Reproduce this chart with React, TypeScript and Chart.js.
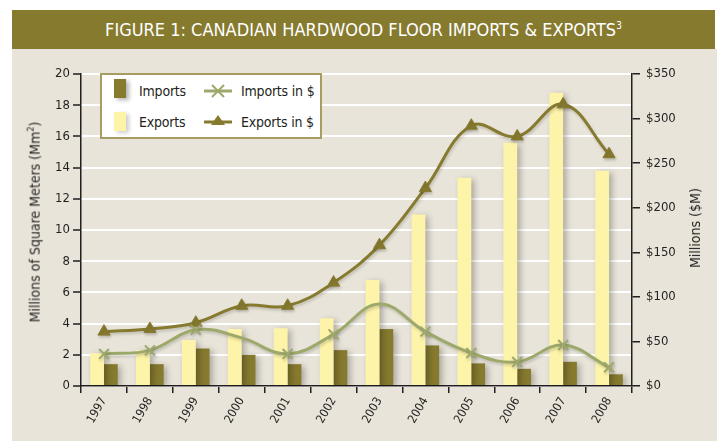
import React, { useEffect, useRef } from "react";
import { Chart, registerables } from "chart.js";

Chart.register(...registerables);

// ---- data ----
const years = ["1997", "1998", "1999", "2000", "2001", "2002", "2003", "2004", "2005", "2006", "2007", "2008"];
const importsMm2 = [1.4, 1.4, 2.4, 2.0, 1.4, 2.3, 3.65, 2.6, 1.45, 1.1, 1.55, 0.75];
const exportsMm2 = [2.1, 2.3, 2.95, 3.65, 3.7, 4.35, 6.8, 11.0, 13.35, 15.6, 18.8, 13.8];
const importsDollars = [36, 40, 63, 54, 36, 58, 92, 61, 37, 27, 46, 21];
const exportsDollars = [61, 64, 71, 90, 90, 116, 158, 222, 292, 280, 316, 260];
// the reference shows no cross marker for 2000 and 2003 on the imports-in-$ line
const importsMarkerShown = [true, true, true, false, true, true, false, true, true, true, true, true];
const leftAxisMax = 20;
const leftAxisStep = 2;
const rightAxisMax = 350;
const rightAxisStep = 50;

const FONT = '"Liberation Sans Narrow", "DejaVu Sans Condensed", "Open Sans", sans-serif';
const OLIVE = "#867A2F";
const YELLOW = "#FDF4A9";
const SAGE = "#9DA86B";
const INK = "#231F20";
const BEIGE = "#E8E4D9";

const shadowPlugin = {
  id: "softShadow",
  beforeDatasetDraw(chart: any, args: any) {
    const ds = chart.data.datasets[args.index];
    const ctx = chart.ctx;
    ctx.save();
    if (ds.type === "bar") {
      ctx.shadowColor = "rgba(0,0,0,0.28)";
      ctx.shadowBlur = 6;
      ctx.shadowOffsetX = 3;
      ctx.shadowOffsetY = 2;
    } else {
      ctx.shadowColor = "rgba(0,0,0,0.18)";
      ctx.shadowBlur = 3;
      ctx.shadowOffsetX = 1;
      ctx.shadowOffsetY = 2;
    }
  },
  afterDatasetDraw(chart: any) {
    chart.ctx.restore();
  },
};

export default function App() {
  const ref = useRef<HTMLCanvasElement | null>(null);

  useEffect(() => {
    document.body.style.margin = "0";
    const canvas = ref.current;
    if (!canvas) return;
    const tickFont = { family: FONT, size: 13 };
    const chart = new Chart(canvas, {
      type: "bar",
      data: {
        labels: years,
        datasets: [
          {
            type: "line",
            label: "Imports in $",
            data: importsDollars,
            yAxisID: "y1",
            borderColor: SAGE,
            backgroundColor: SAGE,
            borderWidth: 3,
            tension: 0.4,
            pointStyle: "crossRot",
            pointRadius: importsMarkerShown.map((s) => (s ? 7 : 0)),
            pointBorderWidth: 2,
            pointBorderColor: SAGE,
            order: 0,
          } as any,
          {
            type: "line",
            label: "Exports in $",
            data: exportsDollars,
            yAxisID: "y1",
            borderColor: OLIVE,
            backgroundColor: OLIVE,
            borderWidth: 3,
            tension: 0.4,
            pointStyle: "triangle",
            pointRadius: 7,
            pointBorderWidth: 1,
            pointBackgroundColor: OLIVE,
            order: 0,
          } as any,
          {
            type: "bar",
            label: "Exports",
            data: exportsMm2,
            yAxisID: "y",
            backgroundColor: YELLOW,
            categoryPercentage: 0.6,
            barPercentage: 1.0,
            order: 1,
          } as any,
          {
            type: "bar",
            label: "Imports",
            data: importsMm2,
            yAxisID: "y",
            backgroundColor: OLIVE,
            categoryPercentage: 0.6,
            barPercentage: 1.0,
            order: 1,
          } as any,
        ],
      },
      options: {
        animation: false,
        responsive: false,
        maintainAspectRatio: false,
        layout: { padding: { top: 74, left: 0, right: 0, bottom: 0 } },
        plugins: {
          legend: { display: false },
          tooltip: { enabled: false },
          title: { display: false },
        },
        scales: {
          x: {
            offset: true,
            grid: {
              offset: true,
              drawOnChartArea: false,
              drawTicks: true,
              tickLength: 7,
              tickColor: INK,
              lineWidth: 1.5,
            },
            border: { color: INK, width: 1.5 },
            ticks: {
              color: INK,
              font: { family: FONT, size: 12 },
              autoSkip: false,
              minRotation: 60,
              maxRotation: 60,
              padding: 2,
            },
            afterFit: (s: any) => {
              s.height = 55;
            },
          },
          y: {
            position: "left",
            min: 0,
            max: leftAxisMax,
            grid: { color: "#FFFFFF", lineWidth: 2, tickColor: INK, tickLength: 8, tickWidth: 1.5 } as any,
            border: { color: INK, width: 1.5 },
            ticks: { stepSize: leftAxisStep, color: INK, font: tickFont, padding: 3 },
            afterFit: (s: any) => {
              s.width = 81;
            },
          },
          y1: {
            position: "right",
            min: 0,
            max: rightAxisMax,
            grid: { drawOnChartArea: false, tickColor: INK, tickLength: 8, lineWidth: 1.5 },
            border: { color: INK, width: 1.5 },
            ticks: {
              stepSize: rightAxisStep,
              color: INK,
              font: tickFont,
              padding: 6,
              callback: (v: any) => "$" + v,
            },
            afterFit: (s: any) => {
              s.width = 85;
            },
          },
        },
      },
      plugins: [shadowPlugin],
    });
    return () => chart.destroy();
  }, []);

  const legendText: React.CSSProperties = {
    position: "absolute",
    fontSize: 14,
    letterSpacing: "-0.2px",
    color: INK,
    lineHeight: "18px",
    whiteSpace: "nowrap",
  };

  return (
    <div style={{ position: "relative", width: 717, height: 441, overflow: "hidden", background: "#FFFFFF", fontFamily: FONT }}>
      <div style={{ position: "absolute", left: 12, top: 49, right: 0, bottom: 0, background: BEIGE }} />
      <div
        style={{
          position: "absolute",
          left: 12,
          top: 10,
          width: 703,
          height: 39,
          background: OLIVE,
          color: "#FFFFFF",
          display: "flex",
          alignItems: "center",
          justifyContent: "center",
          fontSize: 18,
          whiteSpace: "nowrap",
        }}
      >
        <span>
          FIGURE 1: CANADIAN HARDWOOD FLOOR IMPORTS &amp; EXPORTS
          <sup style={{ fontSize: 10, verticalAlign: "top", position: "relative", top: 1 }}>3</sup>
        </span>
      </div>
      <canvas ref={ref} width={717} height={441} style={{ position: "absolute", left: 0, top: 0, width: 717, height: 441 }} />
      <div
        style={{
          position: "absolute",
          left: 34,
          top: 222,
          transform: "translate(-50%, -50%) rotate(-90deg)",
          fontSize: 14,
          color: INK,
          whiteSpace: "nowrap",
        }}
      >
        Millions of Square Meters (Mm<sup style={{ fontSize: 9 }}>2</sup>)
      </div>
      <div
        style={{
          position: "absolute",
          left: 695,
          top: 228,
          transform: "translate(-50%, -50%) rotate(-90deg)",
          fontSize: 14,
          color: INK,
          whiteSpace: "nowrap",
        }}
      >
        Millions ($M)
      </div>
      <div
        style={{
          position: "absolute",
          left: 100,
          top: 73,
          width: 218,
          height: 62,
          background: "#FFFFFF",
          border: "2px solid #A79C62",
        }}
      />
      <div style={{ position: "absolute", left: 114, top: 79, width: 12, height: 19, background: OLIVE, boxShadow: "3px 2px 4px rgba(0,0,0,0.3)" }} />
      <div style={{ ...legendText, left: 139, top: 82 }}>Imports</div>
      <div style={{ position: "absolute", left: 114, top: 112, width: 12, height: 19, background: YELLOW, boxShadow: "3px 2px 4px rgba(0,0,0,0.2)" }} />
      <div style={{ ...legendText, left: 139, top: 113 }}>Exports</div>
      <svg style={{ position: "absolute", left: 202, top: 80 }} width={32} height={52}>
        <line x1={2} y1={11} x2={30} y2={11} stroke={SAGE} strokeWidth={3} />
        <line x1={10} y1={5} x2={22} y2={17} stroke={SAGE} strokeWidth={2} />
        <line x1={10} y1={17} x2={22} y2={5} stroke={SAGE} strokeWidth={2} />
        <line x1={2} y1={42} x2={30} y2={42} stroke={OLIVE} strokeWidth={3} />
        <polygon points="16,35 23,45 9,45" fill={OLIVE} />
      </svg>
      <div style={{ ...legendText, left: 241, top: 82 }}>Imports in $</div>
      <div style={{ ...legendText, left: 241, top: 113 }}>Exports in $</div>
    </div>
  );
}
